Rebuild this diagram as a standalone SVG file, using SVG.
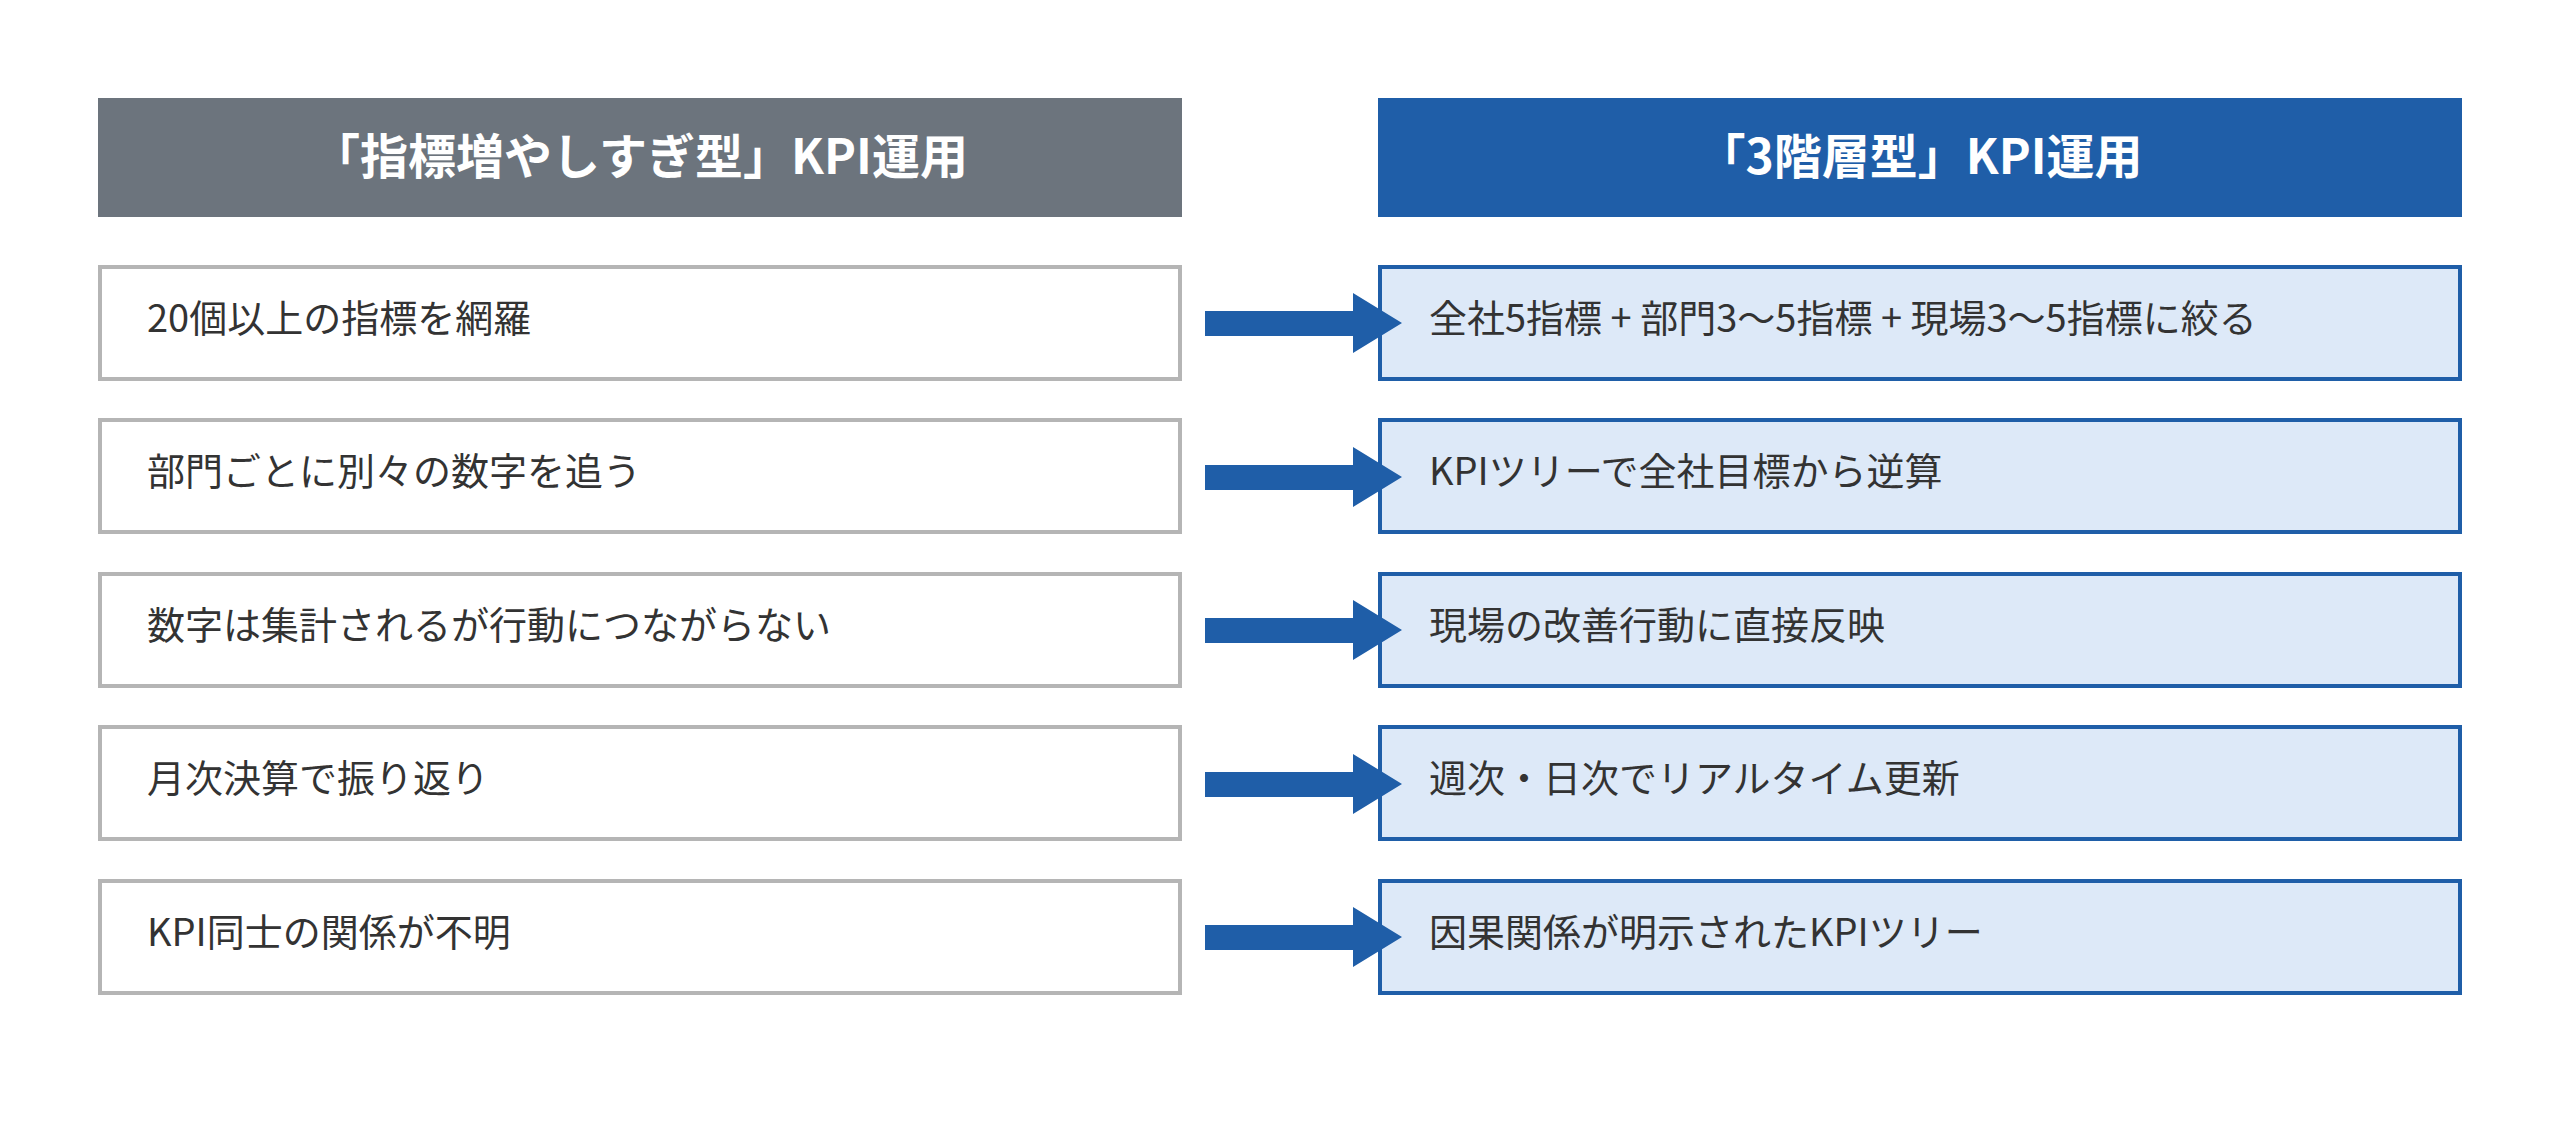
<svg xmlns="http://www.w3.org/2000/svg" width="2560" height="1132" viewBox="0 0 2560 1132">
<style>
.t{font-family:"Noto Sans CJK JP","Liberation Sans",sans-serif;font-size:38px;fill:#333}
.h{font-family:"Noto Sans CJK JP","Liberation Sans",sans-serif;font-size:48px;font-weight:bold;fill:#fff;text-anchor:middle}
.l{fill:#fff;stroke:#b5b5b5;stroke-width:4}
.r{fill:#dde9f8;stroke:#1f5ea8;stroke-width:4}
.a{fill:#1f5ea8}
</style>
<rect width="2560" height="1132" fill="#fff"/>
<g id="hL"><rect x="98" y="98" width="1084" height="119" fill="#6c747d"/><text class="h" x="640" y="174">「指標増やしすぎ型」KPI運用</text></g>
<g id="hR"><rect x="1378" y="98" width="1084" height="119" fill="#1f5ea8"/><text class="h" x="1920" y="174">「3階層型」KPI運用</text></g>
<g id="L1"><rect class="l" x="100" y="267" width="1080" height="112"/><text class="t" x="147" y="332">20個以上の指標を網羅</text></g>
<g id="L2"><rect class="l" x="100" y="420" width="1080" height="112"/><text class="t" x="147" y="485">部門ごとに別々の数字を追う</text></g>
<g id="L3"><rect class="l" x="100" y="574" width="1080" height="112"/><text class="t" x="147" y="639">数字は集計されるが行動につながらない</text></g>
<g id="L4"><rect class="l" x="100" y="727" width="1080" height="112"/><text class="t" x="147" y="792">月次決算で振り返り</text></g>
<g id="L5"><rect class="l" x="100" y="881" width="1080" height="112"/><text class="t" x="147" y="946">KPI同士の関係が不明</text></g>
<g id="R1"><rect class="r" x="1380" y="267" width="1080" height="112"/><text class="t" x="1429" y="332">全社5指標 + 部門3〜5指標 + 現場3〜5指標に絞る</text></g>
<g id="R2"><rect class="r" x="1380" y="420" width="1080" height="112"/><text class="t" x="1429" y="485">KPIツリーで全社目標から逆算</text></g>
<g id="R3"><rect class="r" x="1380" y="574" width="1080" height="112"/><text class="t" x="1429" y="639">現場の改善行動に直接反映</text></g>
<g id="R4"><rect class="r" x="1380" y="727" width="1080" height="112"/><text class="t" x="1429" y="792">週次・日次でリアルタイム更新</text></g>
<g id="R5"><rect class="r" x="1380" y="881" width="1080" height="112"/><text class="t" x="1429" y="946">因果関係が明示されたKPIツリー</text></g>
<g id="connectors">
<path class="a" d="M1205 311H1353V293L1402 323L1353 353V336H1205Z"/>
<path class="a" transform="translate(0,154)" d="M1205 311H1353V293L1402 323L1353 353V336H1205Z"/>
<path class="a" transform="translate(0,307)" d="M1205 311H1353V293L1402 323L1353 353V336H1205Z"/>
<path class="a" transform="translate(0,461)" d="M1205 311H1353V293L1402 323L1353 353V336H1205Z"/>
<path class="a" transform="translate(0,614)" d="M1205 311H1353V293L1402 323L1353 353V336H1205Z"/>
</g>
</svg>
